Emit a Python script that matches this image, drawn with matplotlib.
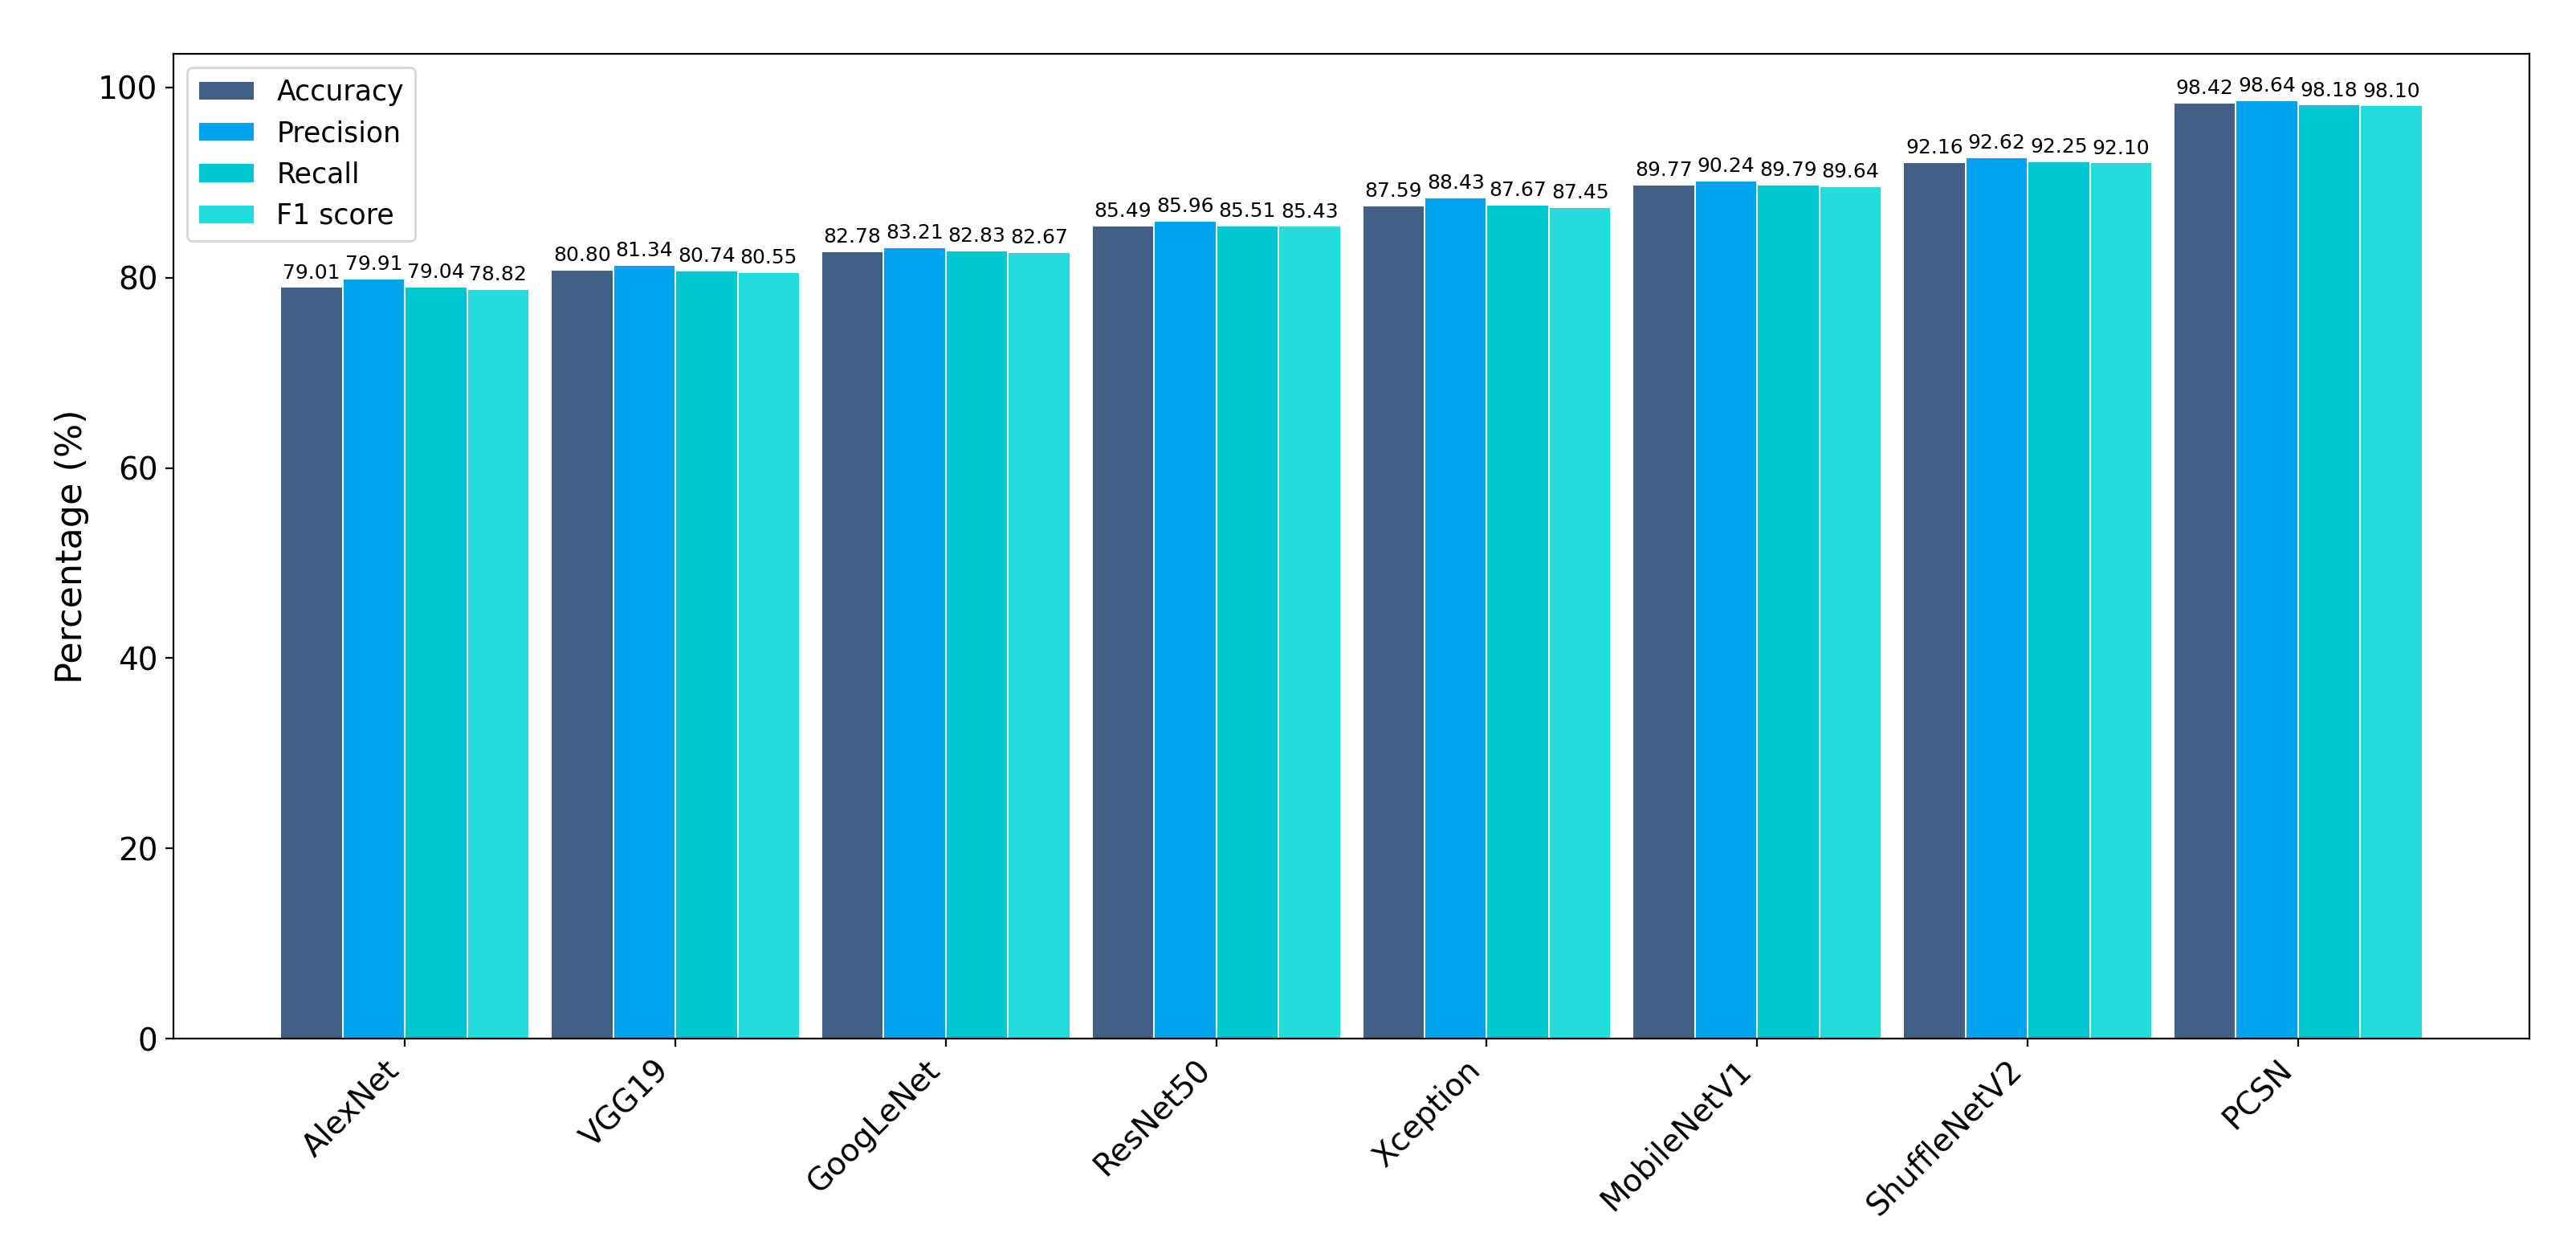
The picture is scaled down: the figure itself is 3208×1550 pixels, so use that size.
import numpy as np
import matplotlib
matplotlib.use("Agg")
import matplotlib.pyplot as plt

models = ['AlexNet', 'VGG19', 'GoogLeNet', 'ResNet50', 'Xception',
          'MobileNetV1', 'ShuffleNetV2', 'PCSN']
accuracy = [79.01, 80.80, 82.78, 85.49, 87.59, 89.77, 92.16, 98.42]
precision = [79.91, 81.34, 83.21, 85.96, 88.43, 90.24, 92.62, 98.64]
recall = [79.04, 80.74, 82.83, 85.51, 87.67, 89.79, 92.25, 98.18]
f1_score = [78.82, 80.55, 82.67, 85.43, 87.45, 89.64, 92.10, 98.10]

metric_names = ['Accuracy', 'Precision', 'Recall', 'F1 score']
colors = ['#406185', '#01A3EC', '#00C6D2', '#23DCDC']
series = [accuracy, precision, recall, f1_score]

fig = plt.figure(figsize=(16.04, 7.75), dpi=200)
ax = fig.add_axes([0.0673, 0.1658, 0.9147, 0.7912])

x = np.arange(len(models))
width = 0.23

for i, (vals, name, col) in enumerate(zip(series, metric_names, colors)):
    pos = x + (i - 1.5) * width
    ax.bar(pos, vals, width, label=name, color=col, edgecolor='white', linewidth=0.7)
    for p, v in zip(pos, vals):
        ax.text(p, v + 0.5, '%.2f' % v, ha='center', va='bottom', fontsize=9)

ax.set_ylabel('Percentage (%)', fontsize=16)
ax.set_xticks(x)
ax.set_xticklabels(models, rotation=45, ha='right', fontsize=14)
ax.tick_params(axis='y', labelsize=14)
ax.legend(loc='upper left', fontsize=12.5)

fig.savefig('out.png', dpi=200)
